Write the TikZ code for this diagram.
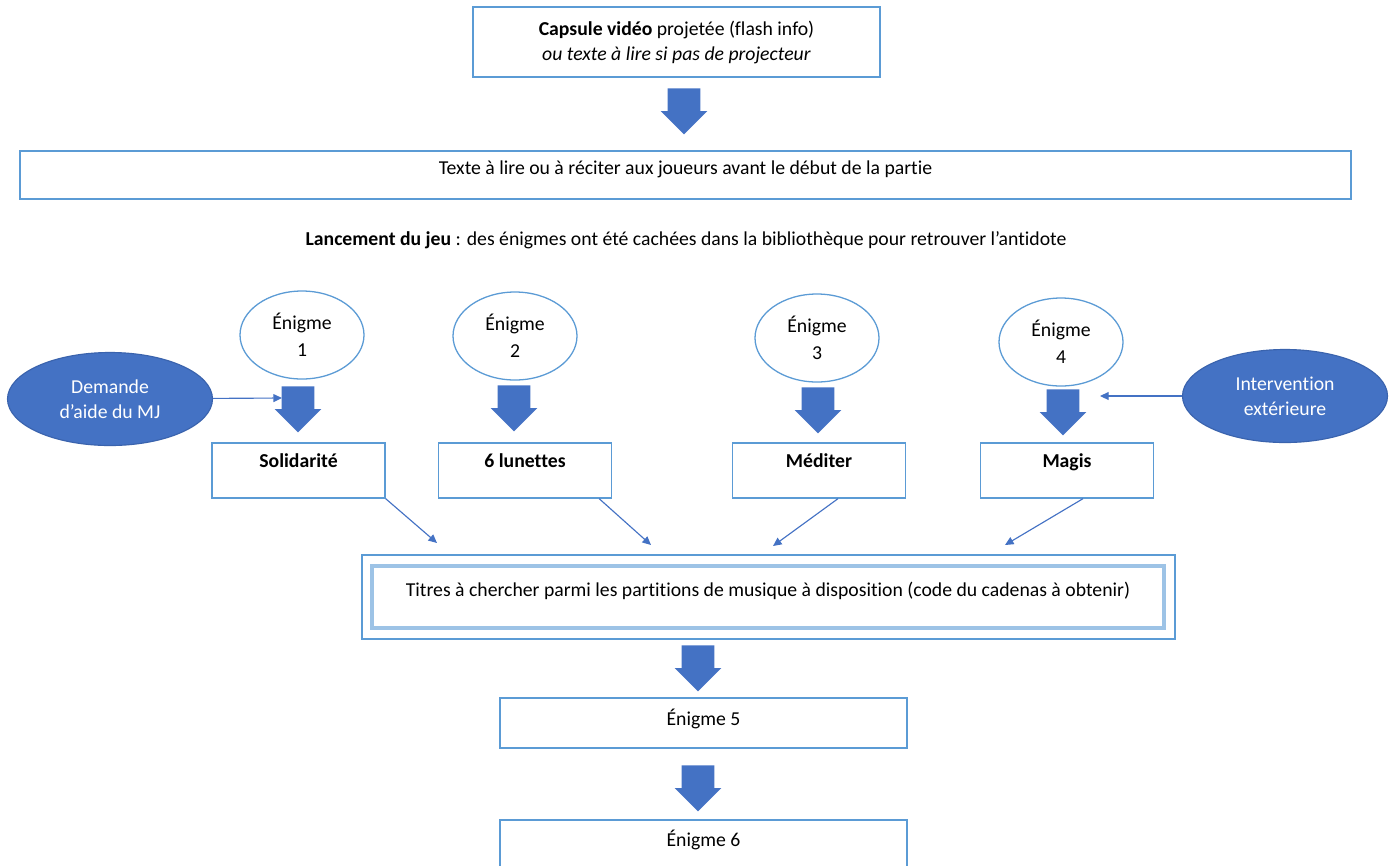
\documentclass[tikz,border=0pt]{standalone}
\usepackage{fontspec}
\setmainfont[Ligatures=NoCommon]{Carlito}
\usetikzlibrary{calc,arrows.meta}
\usetikzlibrary{positioning,shapes.geometric,shapes.arrows}

\definecolor{lineblue}{HTML}{5B9BD5}
\definecolor{fillblue}{HTML}{4472C4}
\definecolor{edgeblue}{HTML}{3A63AD}
\definecolor{paleblue}{HTML}{9DC3E6}

\begin{document}
\begin{tikzpicture}[x=0.7pt, y=-0.7pt,
  every node/.style={font=\fontsize{13.8}{17.5}\selectfont, inner sep=0pt, align=center},
  box/.style 2 args={rectangle, draw=lineblue, line width=0.9pt, minimum width=#1*0.7pt, minimum height=#2*0.7pt},
  liftby/.style={text depth=3pt+#1*1.4pt},
  enigma/.style={ellipse, draw=lineblue, line width=0.9pt, fill=white, minimum width=124*0.7pt, minimum height=88*0.7pt, font=\fontsize{13.8}{18.9}\selectfont},
  helper/.style={ellipse, draw=edgeblue, line width=0.8pt, fill=fillblue, text=white, minimum width=205*0.7pt, minimum height=93*0.7pt},
  bigarrow/.style={single arrow, fill=fillblue, draw=none, rotate=-90, anchor=tail, inner xsep=0pt, inner ysep=16*0.7pt, minimum height=46*0.7pt, single arrow head extend=7*0.7pt, single arrow tip angle=90},
  thinarrow/.style={draw=fillblue, line width=0.8pt, -{Triangle[length=6pt, width=5.5pt]}}
]
\useasboundingbox (0,0) rectangle (1389,865);

% ---- top ----
\node[box={407}{70}] (capsule) at (676.5,42) {\textbf{Capsule vidéo} projetée (flash info)\\\textit{ou texte à lire si pas de projecteur}};
\node[bigarrow] (down0) at (684,88) {};
\node[box={1331}{48}, liftby=5] (texte) at (685.5,175) {Texte à lire ou à réciter aux joueurs avant le début de la partie};
\node (lancement) at (686,240) {\textbf{Lancement du jeu} : des énigmes ont été cachées dans la bibliothèque pour retrouver l’antidote};

% ---- enigmes 1 to 4 ----
\node[enigma] (e1) at (302,335) {Énigme\\1};
\node[enigma] (e2) at (515,336) {Énigme\\2};
\node[enigma] (e3) at (817,338) {Énigme\\3};
\node[enigma] (e4) at (1061,342) {Énigme\\4};

\node[bigarrow] (down1) at (298,386) {};
\node[bigarrow] (down2) at (514,385) {};
\node[bigarrow] (down3) at (818,387) {};
\node[bigarrow] (down4) at (1063,389) {};

\node[box={173}{55}, liftby=8] (sol) at (298.5,470.5) {\textbf{Solidarité}};
\node[box={173}{55}, liftby=8] (lun) at (525,470.5) {\textbf{6 lunettes}};
\node[box={173}{55}, liftby=8] (med) at (819,470.5) {\textbf{Méditer}};
\node[box={173}{55}, liftby=8] (mag) at (1067,470.5) {\textbf{Magis}};

% ---- outside help ----
\node[helper] (demande) at (110,399) {Demande\\d’aide du MJ};
\node[helper] (interv) at (1285,396) {Intervention\\extérieure};
\coordinate (help1) at (282,398);
\coordinate (help4) at (1100,396);
\draw[thinarrow] (demande) -- (help1);
\draw[thinarrow] (interv) -- (help4);

% ---- towards the music scores ----
\node[box={792}{62}, draw=paleblue, line width=2.2pt, liftby=6] (titres) at (768,597) {Titres à chercher parmi les partitions de musique à disposition (code du cadenas à obtenir)};
\node[box={813}{84}] (titresframe) at (768.5,597) {};
\coordinate (t1) at (437,543);
\coordinate (t2) at (651,545);
\coordinate (t3) at (773,546);
\coordinate (t4) at (1005,545);
\draw[thinarrow] (sol.south east) -- (t1);
\draw[thinarrow] ([xshift=-13*0.7pt]lun.south east) -- (t2);
\draw[thinarrow] ([xshift=19*0.7pt]med.south) -- (t3);
\draw[thinarrow] ([xshift=16*0.7pt]mag.south) -- (t4);

% ---- enigmes 5 and 6 ----
\node[bigarrow] (down5) at (698,645) {};
\node[box={407}{50}, liftby=4] (e5) at (703.5,723) {Énigme 5};
\node[bigarrow] (down6) at (698,765) {};
\node[box={407}{60}, liftby=10] (e6) at (703.5,850) {Énigme 6};
\end{tikzpicture}
\end{document}
